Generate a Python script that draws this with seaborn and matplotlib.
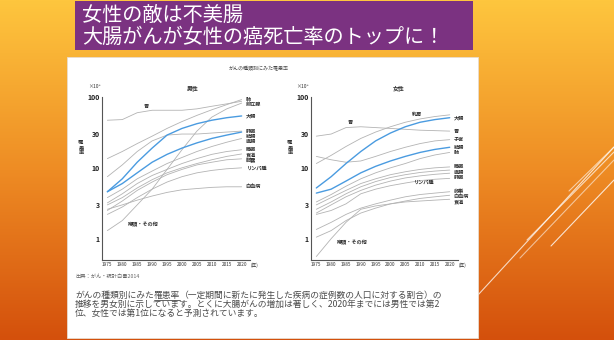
import numpy as np
import pandas as pd
import matplotlib
matplotlib.use("Agg")
import matplotlib.pyplot as plt
import seaborn as sns
from matplotlib.patches import Rectangle
from matplotlib.ticker import FixedLocator, NullFormatter

# ---------------- data ----------------
years = [1975, 1980, 1985, 1990, 1995, 2000, 2005, 2010, 2015, 2020]
year_ticks = [1975, 1980, 1985, 1990, 1995, 2000, 2005, 2010, 2015, 2020]
y_ticks = [1, 3, 10, 30, 100]
y_tick_labels = ["1", "3", "10", "30", "100"]

# male (×10^-5)
m_stomach = [47, 48, 60, 65, 65, 65, 68, 74, 80, 87]
m_lung = [13.5, 17, 22, 28, 36, 45, 55, 66, 78, 92]
m_prostate = [1.3, 1.8, 3.0, 5.0, 9.5, 18, 33, 52, 68, 82]
m_colorectal = [4.6, 7.0, 12, 19, 29, 36, 42, 47, 51, 54]
m_liver = [7.5, 11, 17, 24, 29, 30, 30, 31, 32, 33]
m_colon = [4.6, 6.0, 8.5, 12, 15.5, 19, 22.5, 26, 29, 32]
m_rectum = [3.8, 5.0, 7.0, 9.0, 11.5, 14, 17, 20, 23, 26]
m_pancreas = [3.2, 4.3, 6.0, 7.8, 9.5, 11.5, 13.5, 15.5, 17, 18]
m_esophagus = [3.0, 3.8, 5.2, 6.8, 8.5, 10, 11.5, 13, 14.5, 15.7]
m_gallbladder = [2.5, 3.4, 4.8, 6.3, 8.0, 9.5, 11, 12, 13, 13.4]
m_lymphoma = [2.2, 2.8, 3.8, 5.0, 6.3, 7.5, 8.5, 9.2, 9.7, 10]
m_leukemia = [2.6, 3.0, 3.5, 4.0, 4.5, 4.9, 5.1, 5.3, 5.4, 5.4]

# female (×10^-5)
f_breast = [11.5, 15, 20, 26, 32, 38, 44, 49, 53, 56]
f_stomach = [28, 30, 37, 38, 37, 36, 35, 34, 33.5, 33]
f_uterus = [14.5, 13, 12, 12.5, 14.5, 17, 19.5, 22, 24, 25]
f_colorectal = [5.2, 7.5, 11.5, 17, 24, 31, 38, 44, 48, 51]
f_colon = [4.4, 5.0, 6.5, 8.5, 10.5, 12.5, 14.5, 16.5, 18.2, 19.5]
f_lung = [3.3, 4.2, 5.5, 7.0, 8.5, 10, 11.5, 13.5, 15.2, 16.5]
f_pancreas = [3.0, 3.8, 4.8, 6.0, 7.0, 8.0, 8.8, 9.5, 10, 10.3]
f_rectum = [2.6, 3.3, 4.3, 5.4, 6.4, 7.3, 8.0, 8.6, 9.0, 9.3]
f_liver = [2.3, 3.0, 3.9, 4.8, 5.7, 6.5, 7.2, 7.7, 8.1, 8.4]
f_lymphoma = [2.2, 2.5, 3.1, 4.3, 5.0, 5.6, 6.1, 6.6, 6.9, 7.1]
f_ovary = [1.35, 1.7, 2.2, 2.7, 3.1, 3.5, 3.9, 4.2, 4.4, 4.6]
f_leukemia = [1.05, 1.3, 1.8, 2.3, 2.7, 3.1, 3.4, 3.7, 3.9, 4.1]
f_esophagus = [0.56, 1.0, 1.7, 2.6, 2.9, 3.1, 3.3, 3.4, 3.5, 3.6]

male_series = [("胃", m_stomach), ("肺", m_lung), ("前立腺", m_prostate),
               ("大腸", m_colorectal), ("肝臓", m_liver), ("結腸", m_colon),
               ("直腸", m_rectum), ("膵臓", m_pancreas), ("食道", m_esophagus),
               ("胆嚢", m_gallbladder), ("リンパ腫", m_lymphoma), ("白血病", m_leukemia)]
male_right_labels = ["肺", "前立腺", "大腸", "肝臓", "結腸", "直腸", "膵臓",
                     "食道", "胆嚢", "リンパ腫", "白血病"]
female_series = [("乳房", f_breast), ("胃", f_stomach), ("子宮", f_uterus),
                 ("大腸", f_colorectal), ("結腸", f_colon), ("肺", f_lung),
                 ("膵臓", f_pancreas), ("直腸", f_rectum), ("肝臓", f_liver),
                 ("リンパ腫", f_lymphoma), ("卵巣", f_ovary), ("白血病", f_leukemia),
                 ("食道", f_esophagus)]
female_right_labels = ["大腸", "胃", "子宮", "結腸", "肺", "膵臓", "直腸", "肝臓",
                       "卵巣", "白血病", "食道"]
blue_series = ["大腸", "結腸"]

# ---------------- style ----------------
sns.set_theme(style="white")
FONT = ["Noto Sans CJK JP", "DejaVu Sans"]
plt.rcParams["font.family"] = FONT

W, H = 614, 340
fig = plt.figure(figsize=(W / 100, H / 100), dpi=100)

# background axes in pixel coordinates
bg = fig.add_axes([0, 0, 1, 1])
bg.set_xlim(0, W)
bg.set_ylim(H, 0)
bg.axis("off")
stops = np.array([[254, 198, 62], [238, 140, 36], [212, 80, 12]]) / 255.0
t = np.linspace(0, 1, 256)
grad = np.empty((256, 1, 3))
for c in range(3):
    grad[:, 0, c] = np.interp(t, [0, 0.5, 1], stops[:, c])
bg.imshow(grad, extent=(0, W, H, 0), aspect="auto", zorder=0)

# decorative diagonal lines
for (x1, y1, x2, y2, a) in [(478, 295, 614, 147, 0.75), (527, 240, 614, 152, 0.7),
                            (520, 258, 614, 160, 0.55), (551, 246, 614, 180, 0.8),
                            (569, 191, 614, 147, 0.6)]:
    bg.plot([x1, x2], [y1, y2], color="white", lw=0.8, alpha=a, zorder=1)

# white panel and purple title box
bg.add_patch(Rectangle((67, 57), 411, 281, facecolor="white", edgecolor="#e8dccf", lw=0.6, zorder=2))
bg.add_patch(Rectangle((75, 1), 398, 49, facecolor="#7b3281", edgecolor="none", zorder=2))
bg.text(82, 15, "女性の敵は不美腸", color="white", fontsize=14.5, va="center", ha="left", zorder=3)
bg.text(82, 37, "大腸がんが女性の癌死亡率のトップに！", color="white", fontsize=14.5,
        va="center", ha="left", zorder=3)

# chart texts
txt = "#4a4a4a"
bg.text(259, 69, "がんの種類別にみた罹患率", fontsize=3.6, color=txt, ha="center", va="center", zorder=3)
bg.text(193, 89, "男性", fontsize=4.2, color="#333", ha="center", va="center", zorder=3, fontweight="bold")
bg.text(399, 89, "女性", fontsize=4.2, color="#333", ha="center", va="center", zorder=3, fontweight="bold")
for xx in (94, 302):
    bg.text(xx, 87, "×10⁵", fontsize=3.6, color="#333", ha="center", va="center", zorder=3)
for xx in (81, 290):
    bg.text(xx, 148, "罹\n患\n率", fontsize=3.8, color="#333", ha="center", va="center",
            linespacing=1.0, zorder=3, fontweight="bold")
bg.text(75, 276, "出典：がん・統計白書2014", fontsize=3.8, color="#666", ha="left", va="center", zorder=3)

# paragraph
ps = 6.3
r = fig.canvas.get_renderer()
partA = bg.text(75, 295, "がんの種類別にみた", fontsize=ps, color=txt, ha="left", va="center", zorder=3)
bbA = partA.get_window_extent(r)
partB = bg.text(bbA.x1, 295, "罹患率", fontsize=ps, color=txt, ha="left", va="center", zorder=3)
bbB = partB.get_window_extent(r)
bg.text(bbB.x1, 295, "（一定期間に新たに発生した疾病の症例数の人口に対する割合）の",
        fontsize=ps, color=txt, ha="left", va="center", zorder=3)
bg.plot([bbB.x0, bbB.x1], [299.5, 299.5], color=txt, lw=0.6, zorder=3)
bg.text(75, 304, "推移を男女別に示しています。とくに大腸がんの増加は著しく、2020年までには男性では第2",
        fontsize=ps, color=txt, ha="left", va="center", zorder=3)
bg.text(75, 313, "位、女性では第1位になると予測されています。",
        fontsize=ps, color=txt, ha="left", va="center", zorder=3)


def make_df(series):
    rows = []
    for name, vals in series:
        for yr, v in zip(years, vals):
            rows.append({"year": yr, "value": v, "series": name})
    return pd.DataFrame(rows)


def spread(vals, gap):
    # push labels apart in log space, top to bottom
    order = np.argsort(-np.log10(vals))
    pos = np.log10(np.array(vals, dtype=float))
    out = pos.copy()
    prev = None
    for i in order:
        p = pos[i]
        if prev is not None and prev - p < gap:
            p = prev - gap
        out[i] = p
        prev = p
    return 10 ** out


def draw_panel(rect, series, right_labels, inline):
    ax = fig.add_axes(rect)
    ax.set_facecolor("none")
    df = make_df(series)
    names = [n for n, _ in series]
    gray_df = df[~df["series"].isin(blue_series)]
    blue_df = df[df["series"].isin(blue_series)]
    sns.lineplot(data=gray_df, x="year", y="value", hue="series",
                 palette={n: "#b3b3b3" for n in names if n not in blue_series},
                 legend=False, ax=ax, linewidth=0.6)
    sns.lineplot(data=blue_df, x="year", y="value", hue="series",
                 palette={n: "#4a9be0" for n in blue_series},
                 legend=False, ax=ax, linewidth=1.0)
    ax.set_yscale("log")
    ax.set_ylim(0.5, 100)
    ax.set_xlim(1973.2, 2022.8)
    ax.set_xlabel("")
    ax.set_ylabel("")
    ax.yaxis.set_major_locator(FixedLocator(y_ticks))
    ax.set_yticklabels(y_tick_labels)
    minors = [v * d for d in (0.1, 1, 10) for v in range(2, 10)]
    minors = [m for m in minors if 0.5 <= m <= 100 and m not in y_ticks]
    ax.yaxis.set_minor_locator(FixedLocator(minors))
    ax.yaxis.set_minor_formatter(NullFormatter())
    ax.set_xticks(year_ticks)
    ax.set_xticklabels([str(y) for y in year_ticks])
    for s in ("top", "right"):
        ax.spines[s].set_visible(False)
    for s in ("left", "bottom"):
        ax.spines[s].set_color("#555555")
        ax.spines[s].set_linewidth(0.8)
    ax.tick_params(axis="y", which="major", direction="in", length=3.5, width=0.6,
                   colors="#555", labelsize=5, pad=1.5, labelcolor="#222")
    ax.tick_params(axis="y", which="minor", direction="in", length=2, width=0.5, colors="#777")
    ax.tick_params(axis="x", which="major", direction="in", length=2, width=0.5,
                   colors="#555", labelsize=3.4, pad=1.2, labelcolor="#333")
    for lab in ax.get_yticklabels():
        lab.set_fontweight("bold")
    ax.text(1.005, -0.035, "(年)", transform=ax.transAxes, fontsize=3.4, color="#333",
            ha="left", va="center")
    lookup = dict(series)
    ends = [lookup[n][-1] for n in right_labels]
    ypos = spread(ends, 0.072)
    for n, y in zip(right_labels, ypos):
        ax.text(2021.4, y, n, fontsize=3.7, color="#333", ha="left", va="center",
                fontweight="bold", clip_on=False)
    for (n, x, y) in inline:
        ax.text(x, y, n, fontsize=3.7, color="#333", ha="center", va="center", fontweight="bold")
    return ax


draw_panel([102 / W, 1 - 260 / H, 148 / W, 163 / H], male_series, male_right_labels,
           [("胃", 1988, 73), ("喉頭・その他", 1987, 1.6)])
draw_panel([311 / W, 1 - 260 / H, 147 / W, 163 / H], female_series, female_right_labels,
           [("乳房", 2009, 57), ("胃", 1986.5, 44), ("リンパ腫", 2011, 6.3), ("喉頭・その他", 1987, 0.88)])

fig.savefig("out.png", dpi=100)
